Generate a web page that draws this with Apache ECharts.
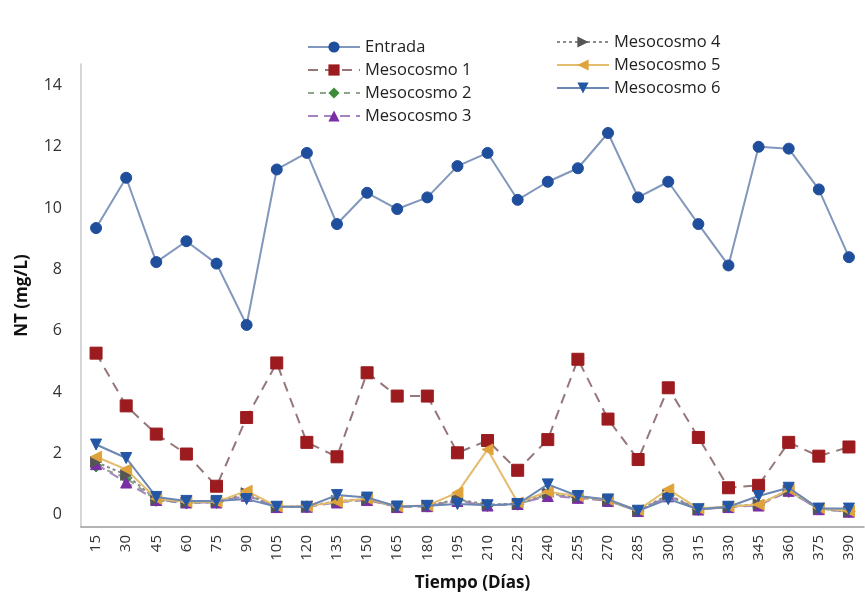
<!DOCTYPE html>
<html>
<head>
<meta charset="utf-8">
<script src="https://cdn.jsdelivr.net/npm/echarts@6/dist/echarts.min.js"></script>
<style>
html,body{margin:0;padding:0;background:#fff;}
#c{width:865px;height:597px;}
</style>
</head>
<body>
<div id="c"></div>
<script>
var categories = ['15','30','45','60','75','90','105','120','135','150','165','180','195','210','225','240','255','270','285','300','315','330','345','360','375','390'];
var yTicks = [0,2,4,6,8,10,12,14];

var entrada = [9.35,10.99,8.24,8.92,8.19,6.19,11.26,11.8,9.48,10.5,9.97,10.35,11.37,11.8,10.27,10.86,11.3,12.45,10.35,10.86,9.48,8.13,12.0,11.94,10.61,8.40];
var meso1 = [5.27,3.55,2.63,1.98,0.93,3.17,4.95,2.36,1.89,4.63,3.87,3.87,2.02,2.42,1.45,2.45,5.07,3.12,1.8,4.14,2.52,0.88,0.96,2.36,1.91,2.21];
var meso2 = [1.59,1.2,0.47,0.38,0.4,0.65,0.25,0.26,0.42,0.5,0.25,0.28,0.48,0.3,0.34,0.65,0.56,0.45,0.12,0.62,0.17,0.25,0.32,0.76,0.19,0.1];
var meso3 = [1.65,1.05,0.48,0.4,0.4,0.62,0.25,0.26,0.4,0.48,0.25,0.28,0.45,0.3,0.35,0.61,0.55,0.45,0.12,0.6,0.17,0.25,0.3,0.78,0.18,0.1];
var meso4 = [1.72,1.3,0.5,0.4,0.42,0.7,0.26,0.27,0.45,0.5,0.26,0.3,0.5,0.33,0.36,0.7,0.58,0.47,0.13,0.65,0.18,0.26,0.35,0.8,0.2,0.1];
var meso5 = [1.89,1.48,0.52,0.42,0.42,0.78,0.27,0.28,0.42,0.52,0.27,0.3,0.72,2.13,0.4,0.75,0.6,0.48,0.15,0.83,0.2,0.27,0.33,0.82,0.22,0.12];
var meso6 = [2.29,1.85,0.58,0.45,0.45,0.51,0.26,0.26,0.64,0.56,0.27,0.29,0.35,0.31,0.35,0.99,0.61,0.5,0.13,0.51,0.18,0.26,0.61,0.88,0.2,0.2];

var FONT = '"Open Sans", sans-serif';

function mk(name, data, symbol, rot, symColor, lineColor, lineType, size, z) {
  return {
    name: name, type: 'line', data: data,
    symbol: symbol, symbolRotate: rot, symbolSize: size,
    itemStyle: {color: symColor, borderColor: symColor},
    lineStyle: {color: lineColor, width: 2, type: lineType},
    z: z,
    emphasis: {disabled: true},
    animation: false
  };
}

var legendText = {fontFamily: FONT, fontSize: 16.5, color: '#222', lineHeight: 20};

var chart = echarts.init(document.getElementById('c'));
chart.setOption({
  backgroundColor: '#fff',
  animation: false,
  grid: {left: 81, right: 1, top: 64, bottom: 66, containLabel: false},
  legend: [
    {
      data: ['Entrada','Mesocosmo 1','Mesocosmo 2','Mesocosmo 3'],
      orient: 'vertical', left: 302, top: 32,
      itemWidth: 52, itemHeight: 14, itemGap: 3,
      textStyle: legendText
    },
    {
      data: ['Mesocosmo 4','Mesocosmo 5','Mesocosmo 6'],
      orient: 'vertical', left: 551, top: 27,
      itemWidth: 52, itemHeight: 14, itemGap: 3,
      textStyle: legendText
    }
  ],
  xAxis: {
    type: 'category', data: categories, boundaryGap: true,
    name: 'Tiempo (Días)', nameLocation: 'middle', nameGap: 48,
    nameTextStyle: {fontFamily: FONT, fontSize: 17, fontWeight: 'bold', color: '#111'},
    axisLine: {onZero: false, lineStyle: {color: '#9a9a9a', width: 1.5}},
    axisTick: {show: false},
    axisLabel: {rotate: 90, margin: 8, fontFamily: FONT, fontSize: 15, color: '#333', interval: 0}
  },
  yAxis: {
    type: 'value', min: -0.4, max: 14.7,
    name: 'NT (mg/L)', nameLocation: 'middle', nameGap: 50,
    nameTextStyle: {fontFamily: FONT, fontSize: 17, fontWeight: 'bold', color: '#111'},
    axisLine: {show: true, lineStyle: {color: '#c8c8c8', width: 1.5}},
    axisTick: {show: false},
    splitLine: {show: false},
    axisLabel: {customValues: yTicks, margin: 19, fontFamily: FONT, fontSize: 16, color: '#333'}
  },
  series: [
    mk('Entrada', entrada, 'circle', 0, '#1f4e9c', '#8197bb', 'solid', 11, 2),
    mk('Mesocosmo 1', meso1, 'rect', 0, '#9b1b1f', '#95777a', [10, 7], 12, 3),
    mk('Mesocosmo 2', meso2, 'diamond', 0, '#3d8c3a', '#8fa58c', [6, 6], 12, 4),
    mk('Mesocosmo 3', meso3, 'triangle', 0, '#7a2ea6', '#a584c0', [10, 6], 11, 5),
    mk('Mesocosmo 4', meso4, 'triangle', -90, '#555555', '#8a8a8a', [3, 3], 11, 6),
    mk('Mesocosmo 5', meso5, 'triangle', 90, '#e0a23a', '#e3bc6e', 'solid', 11, 7),
    mk('Mesocosmo 6', meso6, 'triangle', 180, '#2357a6', '#6c87b2', 'solid', 11, 8)
  ]
});
</script>
</body>
</html>
